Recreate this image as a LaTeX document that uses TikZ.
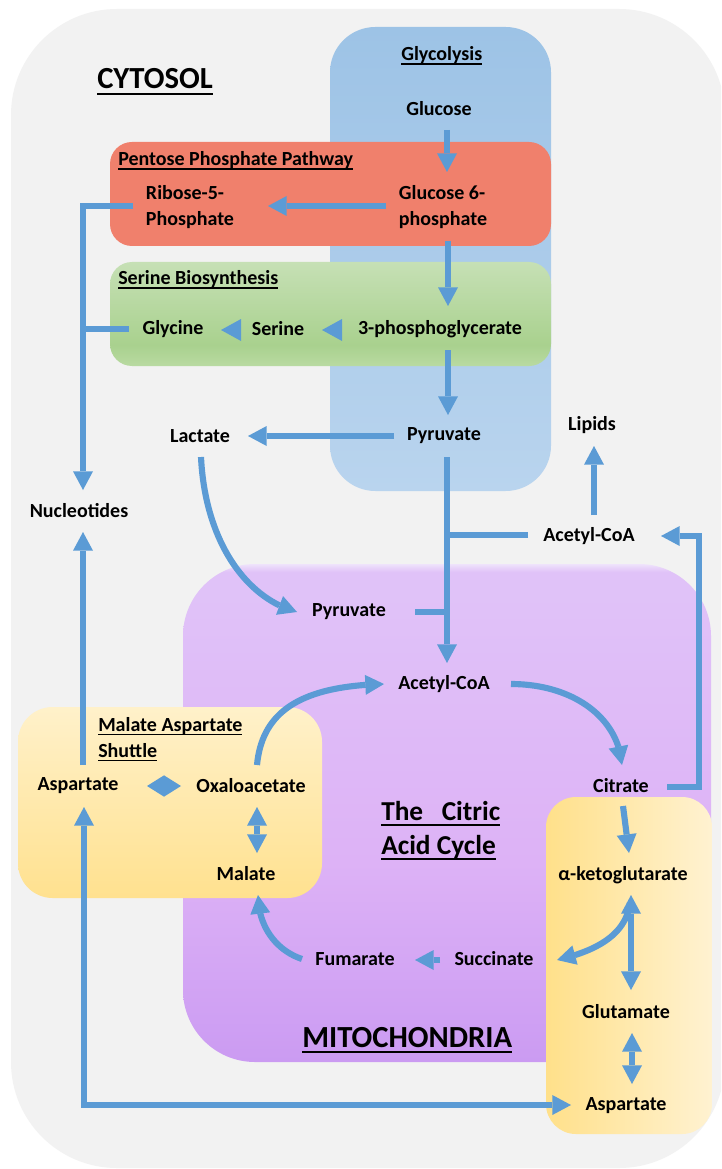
\documentclass[tikz,border=0pt]{standalone}
\usepackage{fontspec}
\setmainfont{Carlito}
\usetikzlibrary{arrows.meta,bending}
\definecolor{ablue}{HTML}{5B9BD5}
\definecolor{cytgrey}{HTML}{F2F2F2}
\definecolor{glyT}{HTML}{9DC3E6}
\definecolor{glyB}{HTML}{B9D4EE}
\definecolor{pppred}{HTML}{F0806C}
\definecolor{grB}{HTML}{B9DAA2}
\definecolor{grM}{HTML}{A9D18E}
\definecolor{grT}{HTML}{C6E0B5}
\definecolor{puB}{HTML}{CB9BF2}
\definecolor{puM}{HTML}{DDB2F6}
\definecolor{puT}{HTML}{E0C2F8}
\definecolor{puE}{HTML}{EFE3FB}
\definecolor{yeT}{HTML}{FFF1CA}
\definecolor{yeB}{HTML}{FFE18F}
\definecolor{yeL}{HTML}{FFE08A}
\definecolor{yeR}{HTML}{FFF2D1}
\pgfdeclareverticalshading{greenshade}{100bp}{color(0bp)=(grB); color(25bp)=(grB); color(35bp)=(grM); color(75bp)=(grT); color(100bp)=(grT)}
\pgfdeclareverticalshading{mitoshade}{100bp}{color(0bp)=(puB); color(25bp)=(puB); color(45bp)=(puM); color(72bp)=(puT); color(74.2bp)=(puT); color(75bp)=(puE); color(100bp)=(puE)}
\newsavebox\ulbox
\newcommand\myul[1]{\sbox\ulbox{#1}\rlap{\rule[-0.19em]{\wd\ulbox}{0.07em}}\usebox\ulbox}
\tikzset{
 lbl/.style={font=\bfseries\fontsize{15}{19.5}\selectfont, inner sep=0pt, align=center},
 ttl/.style={font=\bfseries\fontsize{15}{19.5}\selectfont, inner sep=0pt, align=left},
 big/.style={font=\bfseries\fontsize{23}{27}\selectfont, inner sep=0pt},
 tcafont/.style={font=\bfseries\fontsize{20.5}{25.5}\selectfont, inner sep=0pt, align=left},
 ln/.style={draw=ablue, line width=4.6pt},
 arr/.style={ln, -{Triangle[width=15pt,length=14pt,line width=0pt]}},
 dbl/.style={ln, {Triangle[width=15pt,length=14pt,line width=0pt]}-{Triangle[width=15pt,length=14pt,line width=0pt]}},
 tri/.style={ln, -{Triangle[width=16.5pt,length=15pt,line width=0pt]}},
 diam/.style={ln, {Triangle[width=16pt,length=12.75pt,line width=0pt]}-{Triangle[width=16pt,length=12.75pt,line width=0pt]}},
}
\begin{document}
\begin{tikzpicture}[x=0.75pt,y=-0.75pt]
\useasboundingbox (0,0) rectangle (721,1169);
\fill[white] (0,0) rectangle (721,1169);
% regions
\begin{scope}
\clip (0,0) rectangle (721,1169);
\fill[cytgrey, rounded corners=79.5pt] (11,9) rectangle (725,1168);
\end{scope}
\path[top color=glyT, bottom color=glyB, rounded corners=34pt] (330,27) rectangle (551,491);
\fill[pppred, rounded corners=16.5pt] (110,142) rectangle (551,246);
\path[shading=greenshade, rounded corners=16.5pt] (110,262) rectangle (551,366);
\path[shading=mitoshade, rounded corners=54pt] (183,564) rectangle (711,1062);
\path[top color=yeT, bottom color=yeB, rounded corners=26pt] (18,707) rectangle (322,898);
\path[left color=yeL, right color=yeR, rounded corners=22.5pt] (546,797) rectangle (712,1134);
% titles
\node[big, anchor=base west] (cytosol) at (97,89) {\myul{CYTOSOL}};
\node[big, anchor=base west] (mito) at (302,1047) {\myul{MITOCHONDRIA}};
\node[ttl, anchor=base west] (glycolysis) at (401,61) {\myul{Glycolysis}};
\node[ttl, anchor=base west] (ppp) at (118,166) {\myul{Pentose Phosphate Pathway}};
\node[ttl, anchor=base west] (serbio) at (118,285) {\myul{Serine Biosynthesis}};
\node[ttl, anchor=north west] (mas) at (98,717) {\myul{Malate Aspartate}\\\myul{Shuttle}};
\node[tcafont, anchor=north west] (tca) at (381,801) {\myul{The\ \ \ Citric}\\\myul{Acid Cycle}};
% metabolites
\node[lbl] (glucose) at (439,109) {Glucose};
\node[lbl, align=left] (g6p) at (443,207) {Glucose 6-\\phosphate};
\node[lbl, align=left] (ribose) at (190,207) {Ribose-5-\\Phosphate};
\node[lbl] (glycine) at (173,329) {Glycine};
\node[lbl] (serine) at (278,329) {Serine};
\node[lbl] (pg3) at (440,329) {3-phosphoglycerate};
\node[lbl] (lactate) at (200,436) {Lactate};
\node[lbl] (pyrc) at (444,436) {Pyruvate};
\node[lbl] (lipids) at (592,425) {Lipids};
\node[lbl] (nucl) at (79,511) {Nucleotides};
\node[lbl] (acoac) at (589,536) {Acetyl-CoA};
\node[lbl] (pyrm) at (349,612) {Pyruvate};
\node[lbl] (acoam) at (444,684) {Acetyl-CoA};
\node[lbl] (aspl) at (78,786) {Aspartate};
\node[lbl] (oaa) at (251,786) {Oxaloacetate};
\node[lbl] (citrate) at (621,786) {Citrate};
\node[lbl] (malate) at (246,874) {Malate};
\node[lbl] (akg) at (623,875) {α-ketoglutarate};
\node[lbl] (fumarate) at (355,959) {Fumarate};
\node[lbl] (succinate) at (494,959) {Succinate};
\node[lbl] (glutamate) at (626,1012) {Glutamate};
\node[lbl] (aspr) at (626,1106) {Aspartate};
% junction points
\coordinate (j1) at ([shift={(3,99)}]pyrc.center);
\coordinate (j2) at ([shift={(3,176)}]pyrc.center);
\coordinate (j3) at ([shift={(4,-182)}]nucl.center);
% connectors
\draw[arr] ([shift={(8,21)}]glucose.center) -- ([shift={(4,-35)}]g6p.center);
\draw[arr] ([shift={(-57,-1)}]g6p.center) -- ([shift={(78,-1)}]ribose.center);
\draw[arr] ([shift={(5,34)}]g6p.center) -- ([shift={(8,-23)}]pg3.center);
\draw[tri] ([shift={(-98,1)}]pg3.center) -- ([shift={(44,1)}]serine.center);
\draw[tri] ([shift={(-37,1)}]serine.center) -- ([shift={(48,1)}]glycine.center);
\draw[arr] ([shift={(8,21)}]pg3.center) -- ([shift={(4,-21)}]pyrc.center);
\draw[arr] ([shift={(-50,0)}]pyrc.center) -- ([shift={(48,0)}]lactate.center);
\draw[arr] ([shift={(1,21)}]lactate.center) .. controls +(4,83) and +(-52,-14) .. ([shift={(-52,0)}]pyrm.center);
\draw[arr] ([shift={(3,21)}]pyrc.center) -- ([shift={(3,-21)}]acoam.center);
\draw[ln] ([shift={(-61,-1)}]acoac.center) -- (j1);
\draw[ln] ([shift={(66,0)}]pyrm.center) -- (j2);
\draw[arr] ([shift={(5,-21)}]acoac.center) -- ([shift={(2,21)}]lipids.center);
\draw[arr] ([shift={(46,1)}]citrate.center) -| ([shift={(110,0)}]acoac.center) -- ([shift={(72,0)}]acoac.center);
\draw[arr] ([shift={(-57,-1)}]ribose.center) -| ([shift={(4,-21)}]nucl.center);
\draw[ln] ([shift={(-44,0)}]glycine.center) -- (j3);
\draw[arr] ([shift={(5,-21)}]aspl.center) -- ([shift={(4,21)}]nucl.center);
\draw[dbl] ([shift={(-55,-1)}]aspr.center) -| ([shift={(6,21)}]aspl.center);
\draw[diam] ([shift={(69,0)}]aspl.center) -- ([shift={(-70,0)}]oaa.center);
\draw[dbl] ([shift={(6,21)}]oaa.center) -- ([shift={(11,-21)}]malate.center);
\draw[arr] ([shift={(6,-21)}]oaa.center) .. controls +(5,-53) and +(-84,2) .. ([shift={(-60,0)}]acoam.center);
\draw[arr] ([shift={(67,0)}]acoam.center) .. controls +(59,0) and +(-4,-50) .. ([shift={(1,-21)}]citrate.center);
\draw[arr] ([shift={(2,20)}]citrate.center) -- ([shift={(6,-22)}]akg.center);
\draw[dbl] ([shift={(8,20)}]akg.center) -- ([shift={(5,-22)}]glutamate.center);
\draw[arr] ([shift={(7,28)}]akg.center) .. controls +(-4,30) and +(43,-10) .. ([shift={(63,1)}]succinate.center);
\draw[dbl] ([shift={(6,21)}]glutamate.center) -- ([shift={(6,-22)}]aspr.center);
\draw[arr] ([shift={(-54,1)}]succinate.center) -- ([shift={(60,1)}]fumarate.center);
\draw[arr] ([shift={(-53,0)}]fumarate.center) .. controls +(-27,-9) and +(0,30) .. ([shift={(12,21)}]malate.center);
\end{tikzpicture}
\end{document}
